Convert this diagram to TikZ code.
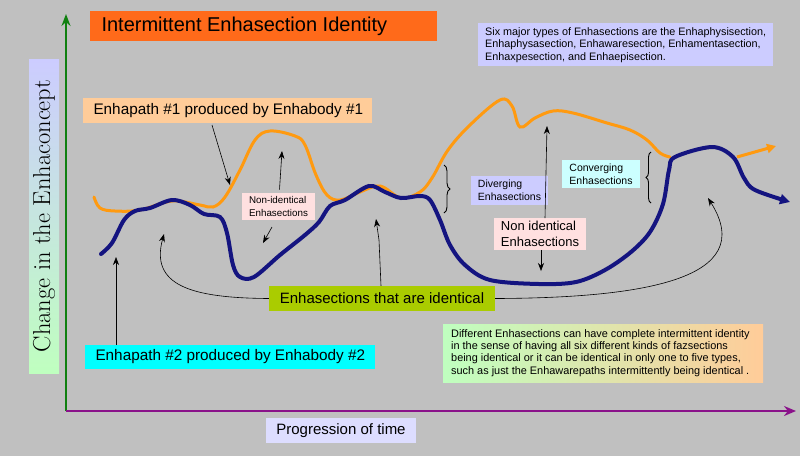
\documentclass[tikz,border=0pt]{standalone}
\usepackage{fontspec}
\setmainfont{Liberation Sans}
\newfontfamily\lmserif{Latin Modern Roman}
\usetikzlibrary{arrows.meta,decorations.pathreplacing,calc}
\definecolor{bg}{HTML}{C0C0C0}
\definecolor{titleor}{HTML}{FF6A1A}
\definecolor{lav}{HTML}{CCCCFF}
\definecolor{peach}{HTML}{FFCC99}
\definecolor{pinkb}{HTML}{FFE0E0}
\definecolor{cyanl}{HTML}{CCFFFF}
\definecolor{ygreen}{HTML}{AACC00}
\definecolor{cyanb}{HTML}{00FFFF}
\definecolor{progb}{HTML}{DDDDFF}
\definecolor{navy}{HTML}{141480}
\definecolor{orline}{HTML}{FF9A10}
\definecolor{axgreen}{HTML}{108010}
\definecolor{axpurp}{HTML}{8A128A}
\tikzset{
  lbl/.style={inner sep=0pt, anchor=north west},
  ptr/.style={-{Stealth[length=8pt,width=6pt]}, black, line width=0.6pt},
}
\begin{document}
\begin{tikzpicture}[x=1pt,y=-1pt]
\useasboundingbox (0,0) rectangle (800,456);
\fill[bg] (0,0) rectangle (800,456);

% axes
\coordinate (o) at (66,411);
\coordinate (ytop) at (66,14);
\coordinate (xend) at (796,411);
\draw[axgreen, line width=1.6pt, -{Stealth[length=12pt,width=9pt]}] (o) -- (ytop);
\draw[axpurp, line width=2pt, -{Stealth[length=12pt,width=10pt]}] (o) -- (xend);

% y label
\shade[top color=lav, bottom color=green!25!white] (29,59) rectangle (59,373);
\node[rotate=90, font=\lmserif\fontsize{24.5}{28}\selectfont] (ylab) at (44,216) {Change in the Enhaconcept};

% orange path
\draw[orline, line width=3pt, line cap=round] plot[smooth, tension=0.6] coordinates {
 (94,197) (100,208) (115,211) (140,210) (172,201) (200,205) (213,207) (225,197) (240,170) (255,140) (270,131) (295,136) (305,145) (316,175) (327,195) (340,200) (360,192) (380,186) (401,198) (420,192) (432,178) (448,150) (470,125) (500,100) (512,106) (520,127) (535,118) (553,111) (573,113) (607,123) (630,130) (647,140) (660,153) (670,157)};
\draw[orline, line width=3pt, -{Triangle[length=9pt,width=9pt]}] (737,157) -- (776,146);

% blue path
\draw[navy, line width=4pt, line cap=round, -{Triangle[length=10pt,width=10pt]}] plot[smooth, tension=0.55] coordinates {
 (101,254) (112,243) (124,220) (135,211) (150,208) (172,200) (190,205) (204,214) (220,217) (227,233) (233,265) (240,277) (254,277) (280,255) (305,235) (319,222) (330,206) (345,200) (369,186) (385,192) (401,198) (420,196) (430,200) (440,220) (450,245) (465,265) (490,280) (539,284) (576,282) (605,270) (631,252) (650,232) (663,204) (669,170) (675,157) (712,147) (733,157) (744,178) (755,190) (790,202)};

% title
\node[lbl, fill=titleor, minimum width=347pt, minimum height=30pt, inner sep=0pt] (title) at (90,11) {};
\node[anchor=west, font=\fontsize{20}{24}\selectfont] (titletxt) at (98,26) {Intermittent Enhasection Identity};

% six major
\node[anchor=north west, fill=lav, inner xsep=7pt, inner ysep=4pt, align=left, font=\fontsize{10.8}{12.6}\selectfont] (six) at (478,23) {Six major types of Enhasections are the Enhaphysisection,\\Enhaphysasection, Enhawaresection, Enhamentasection,\\Enhaxpesection, and Enhaepisection.};

% enhapath 1
\node[anchor=north west, fill=peach, minimum width=289pt, minimum height=25pt, inner sep=0pt] (ep1) at (83,98) {};
\node[anchor=west, font=\fontsize{15.3}{17}\selectfont] (ep1t) at (90,110.5) {Enhapath \#1 produced by Enhabody \#1};

% enhapath 2
\node[anchor=north west, fill=cyanb, minimum width=290pt, minimum height=24pt, inner sep=0pt] (ep2) at (85,345) {};
\node[anchor=west, font=\fontsize{15.3}{17}\selectfont] (ep2t) at (92,357) {Enhapath \#2 produced by Enhabody \#2};

% non-identical small
\node[fill=pinkb, align=left, inner xsep=7pt, inner ysep=4pt, font=\fontsize{9.8}{12.4}\selectfont] (ni1) at (278.5,206.5) {Non-identical\\Enhasections};

% diverging
\node[fill=lav, align=left, inner xsep=7pt, inner ysep=4pt, font=\fontsize{10.5}{13}\selectfont] (div) at (509.5,190.5) {Diverging\\Enhasections};

% converging
\node[fill=cyanl, align=left, inner xsep=7pt, inner ysep=4pt, font=\fontsize{10.5}{13}\selectfont] (conv) at (601,174) {Converging\\Enhasections};

% non identical big
\node[fill=pinkb, align=left, inner xsep=7pt, inner ysep=3pt, font=\fontsize{13}{16}\selectfont] (ni2) at (540,234) {Non identical\\Enhasections};

% identical
\node[fill=ygreen, minimum width=226pt, minimum height=25pt, inner sep=0pt, font=\fontsize{15}{17}\selectfont] (ident) at (382,298.5) {Enhasections that are identical};

% different box
\shade[left color=green!25!white, right color=peach] (443,324) rectangle (763,382);
\node[anchor=north west, align=left, inner sep=0pt, font=\fontsize{10.9}{12.4}\selectfont] (diff) at (451,329) {Different Enhasections can have complete intermittent identity\\in the sense of having all six different kinds of fazsections\\being identical or it can be identical in only one to five types,\\such as just the Enhawarepaths intermittently being identical .};

% progression
\node[fill=progb, minimum width=150pt, minimum height=25pt, inner sep=0pt, font=\fontsize{15}{17}\selectfont] (prog) at (341,430.5) {Progression of time};

% arrows
\coordinate (t1) at (230,185);
\draw[ptr] (212,125) -- (t1);
\coordinate (t2) at (282,151);
\draw[ptr] (ni1.north) ++(1,-3) -- (t2);
\coordinate (t3) at (263,243);
\draw[ptr] (272,227) -- (t3);
\coordinate (t4) at (116,257);
\draw[ptr] (ep2.north west) ++(31,0) -- (t4);
\coordinate (t5) at (164,234);
\draw[ptr] (ident.west) .. controls (190,298) and (150,285) .. (t5);
\coordinate (t6) at (376,219);
\draw[ptr] (ident.north) ++(-1,0) -- (379,240) -- (t6);
\coordinate (t7) at (708,198);
\draw[ptr] (ident.east) .. controls (640,298) and (760,280) .. (t7);
\coordinate (t8) at (547,126);
\draw[ptr] (ni2.north) ++(5,0) -- (t8);
\coordinate (t9) at (541,271);
\draw[ptr] (ni2.south) ++(1,0) -- (t9);

% braces
\draw[decorate, decoration={brace, amplitude=6pt}, line width=0.9pt] (444,165) -- (444,213);
\draw[decorate, decoration={brace, amplitude=5pt, mirror}, line width=0.9pt] (651,152) -- (651,203);
\end{tikzpicture}
\end{document}
